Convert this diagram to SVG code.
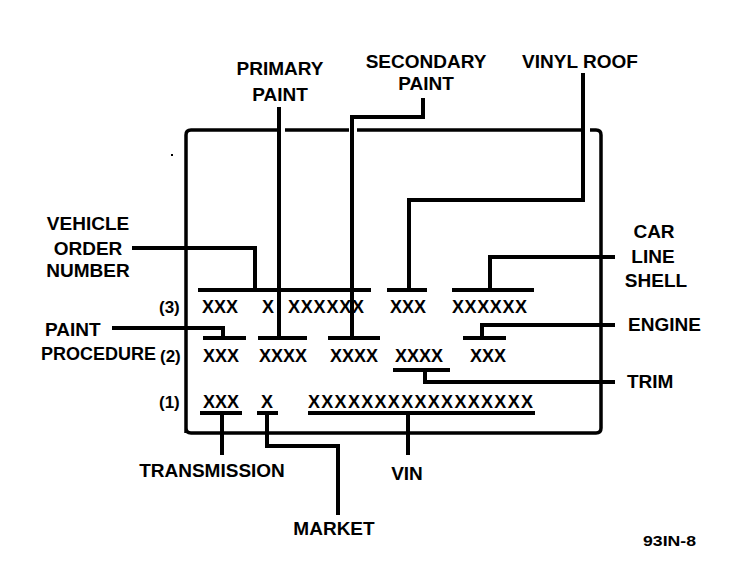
<svg xmlns="http://www.w3.org/2000/svg" width="752" height="576" viewBox="0 0 752 576">
<style>
.lbl{font-family:"Liberation Sans",Arial,sans-serif;font-weight:bold;font-size:19px;fill:#000}
.code{font-family:"Liberation Sans",Arial,sans-serif;font-weight:bold;font-size:18px;fill:#000}
.num{font-family:"Liberation Sans",Arial,sans-serif;font-weight:bold;font-size:17px;fill:#000}
.ln{fill:none;stroke:#000;stroke-width:4;stroke-linecap:butt;stroke-linejoin:miter}
.thin{stroke-width:3.5}
.mid{text-anchor:middle}
</style>
<rect width="752" height="576" fill="#fff"/>

<g id="card">
  <path class="ln thin" d="M186,433 L186,135 Q186,130 191,130 L277,130 M285,130 L349,130 M357,130 L581,130 M590,130 L596,130 Q601,130 601,135 L601,428 Q601,433 596,433 L191,433 Q186,433 186,428"/>
  <rect x="171" y="154" width="2" height="2" fill="#000"/>
</g>

<g id="row3">
  <text class="num" x="159" y="313">(3)</text>
  <text class="code" x="202" y="313">XXX</text>
  <text class="code" x="262" y="313">X</text>
  <text class="code" x="288" y="313" textLength="76" lengthAdjust="spacing">XXXXXX</text>
  <text class="code" x="390" y="313">XXX</text>
  <text class="code" x="452" y="313" textLength="75" lengthAdjust="spacing">XXXXXX</text>
  <path class="ln" d="M198,290 H371 M387,290 H427 M452,290 H534"/>
</g>

<g id="row2">
  <text class="num" x="160" y="362">(2)</text>
  <text class="code" x="203" y="362">XXX</text>
  <text class="code" x="259" y="362">XXXX</text>
  <text class="code" x="330" y="362">XXXX</text>
  <text class="code" x="395" y="362">XXXX</text>
  <text class="code" x="470" y="362">XXX</text>
  <path class="ln" d="M203,338 H246 M258,338 H307 M328,338 H380 M463,338 H506 M393,370 H450"/>
</g>

<g id="row1">
  <text class="num" x="159" y="408">(1)</text>
  <text class="code" x="203" y="408">XXX</text>
  <text class="code" x="261" y="408">X</text>
  <text class="code" x="308" y="408" textLength="225" lengthAdjust="spacing">XXXXXXXXXXXXXXXXX</text>
  <path class="ln" d="M200,413 H242 M257,413 H278 M308,413 H535"/>
</g>

<g id="primary-paint">
  <text class="lbl mid" x="280" y="75">PRIMARY</text>
  <text class="lbl mid" x="280" y="101">PAINT</text>
</g>
<g id="secondary-paint">
  <text class="lbl mid" x="426" y="68">SECONDARY</text>
  <text class="lbl mid" x="426" y="90">PAINT</text>
</g>
<g id="vinyl-roof">
  <text class="lbl mid" x="580" y="68">VINYL ROOF</text>
</g>
<g id="vehicle-order-number">
  <text class="lbl mid" x="88" y="230">VEHICLE</text>
  <text class="lbl mid" x="88" y="255">ORDER</text>
  <text class="lbl mid" x="88" y="277">NUMBER</text>
</g>
<g id="paint-procedure">
  <text class="lbl" x="45" y="336">PAINT</text>
  <text class="lbl" x="41" y="360" style="font-size:18px">PROCEDURE</text>
</g>
<g id="car-line-shell">
  <text class="lbl mid" x="654" y="238">CAR</text>
  <text class="lbl mid" x="653" y="263">LINE</text>
  <text class="lbl mid" x="656" y="287">SHELL</text>
</g>
<g id="engine">
  <text class="lbl" x="628" y="331">ENGINE</text>
</g>
<g id="trim">
  <text class="lbl" x="627" y="388">TRIM</text>
</g>
<g id="transmission">
  <text class="lbl mid" x="212" y="477">TRANSMISSION</text>
</g>
<g id="market">
  <text class="lbl mid" x="334" y="535">MARKET</text>
</g>
<g id="vin">
  <text class="lbl mid" x="407" y="480">VIN</text>
</g>
<g id="figure-number">
  <text x="643" y="546" textLength="53" lengthAdjust="spacingAndGlyphs" style="font-family:'Liberation Sans',Arial,sans-serif;font-weight:bold;font-size:15px">93IN-8</text>
</g>

<g id="connectors">
  <path class="ln" d="M279,107 V338"/>
  <path class="ln" d="M423,98 V117 H352 V338"/>
  <path class="ln" d="M583,73 V200 H409 V290"/>
  <path class="ln" d="M132,248 H255 V290"/>
  <path class="ln" d="M112,328 H223 V338"/>
  <path class="ln" d="M615,257 H490 V290"/>
  <path class="ln" d="M615,325 H482 V338"/>
  <path class="ln" d="M615,382 H425 V370"/>
  <path class="ln" d="M222,413 V455"/>
  <path class="ln" d="M267,413 V446 H338 V515"/>
  <path class="ln" d="M408,413 V455"/>
</g>
</svg>
